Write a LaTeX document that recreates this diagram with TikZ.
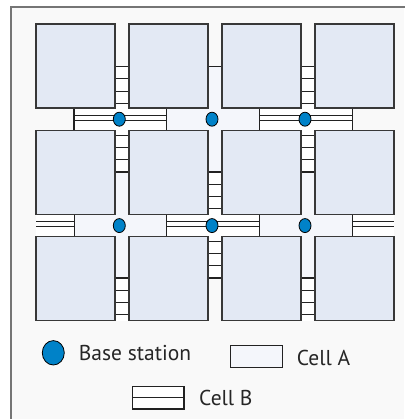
\documentclass[tikz,border=0pt]{standalone}
\usepackage{fontspec}
\setmainfont{PT Sans}
\definecolor{framebg}{HTML}{F9F9F9}
\definecolor{framecol}{HTML}{757575}
\definecolor{blockfill}{HTML}{E3E9F4}
\definecolor{cellafill}{HTML}{F4F6FB}
\definecolor{dotblue}{HTML}{0082C8}
\definecolor{inkline}{HTML}{222222}
\tikzset{
  block/.style={fill=blockfill, draw=inkline!90, line width=1.2pt},
  ln/.style={draw=inkline, line width=1.1pt},
  station/.style={ellipse, fill=dotblue, draw=black, line width=0.8pt, inner sep=0pt},
  legendtext/.style={anchor=base west, inner sep=0pt, font=\fontsize{21.5}{25}\selectfont, text=black!85},
}
\usetikzlibrary{shapes.geometric}
\begin{document}
\begin{tikzpicture}[x=1pt,y=-1pt]
\useasboundingbox (0,0) rectangle (404,419);
\fill[white] (0,0) rectangle (404,419);
\fill[framebg] (11,7) rectangle (404,419);
\draw[framecol, line width=1.4pt] (11,420) -- (11,7) -- (405,7);

% Cell A crosses: col gap xa..xb, row gap ya..yb, arm ends hx1..hx2, vy1..vy2
\foreach \xa/\xb/\ya/\yb/\hxa/\hxb/\vya/\vyb in {
  208/222/108/130.4/166.7/259.3/66.7/172,
  115/129/214.4/236.8/74/166.7/172/278,
  301/315/214.4/236.8/259.3/352.7/172/278}{
  \fill[cellafill] (\hxa,\ya) rectangle (\hxb,\yb);
  \fill[cellafill] (\xa,\vya) rectangle (\xb,\vyb);
  \draw[ln] (\hxa,\ya) -- (\hxa,\yb) (\hxb,\ya) -- (\hxb,\yb)
            (\xa,\vya) -- (\xb,\vya) (\xa,\vyb) -- (\xb,\vyb);
}

% Cell B crosses: white, with double band lines and ladder rungs
\foreach \xa/\xb/\ya/\yb/\hxa/\hxb/\vya/\vyb in {
  115/129/108/130.4/74/166.7/66.7/172,
  301/315/108/130.4/259.3/352.7/66.7/172,
  208/222/214.4/236.8/166.7/259.3/172/278}{
  \fill[white] (\hxa,\ya) rectangle (\hxb,\yb);
  \fill[white] (\xa,\vya) rectangle (\xb,\vyb);
  \draw[ln] (\hxa,\ya) -- (\hxa,\yb) (\hxb,\ya) -- (\hxb,\yb);
  \draw[ln] (\hxa,{(\ya+\yb)/2-4}) -- (\hxb,{(\ya+\yb)/2-4})
            (\hxa,{(\ya+\yb)/2+1}) -- (\hxb,{(\ya+\yb)/2+1});
  \foreach \k in {0,...,3}{
    \draw[ln] (\xa,{\vya+12.2*\k}) -- (\xb,{\vya+12.2*\k});
    \draw[ln] (\xa,{\vyb-12.2*\k}) -- (\xb,{\vyb-12.2*\k});
  }
}

% Cell B pieces at the edges of the grid
\foreach \hxa/\hxb in {36/74, 352.7/394}{
  \fill[white] (\hxa,214.4) rectangle (\hxb,236.8);
  \draw[ln] (\hxa,221.6) -- (\hxb,221.6) (\hxa,226.6) -- (\hxb,226.6);
}
\foreach \xa/\xb in {115/129, 301/315}{
  \fill[white] (\xa,278) rectangle (\xb,320.8);
  \foreach \k in {0,...,3}
    \draw[ln] (\xa,{278+12.2*\k}) -- (\xb,{278+12.2*\k});
}

% City blocks
\foreach \i in {0,...,3}
  \foreach \j in {0,...,2}
    \draw[block] ({36+93*\i},{24+106.4*\j}) rectangle +(79,84);

% Base stations
\foreach \x/\y [count=\n] in {119.3/119.2, 212/119.2, 305/119.2, 119.3/225.6, 212/225.6, 305/225.6}
  \node[station, minimum width=12pt, minimum height=14pt] (bs\n) at (\x,\y) {};

% Legend
\node[station, minimum width=22pt, minimum height=24.4pt] (legbs) at (53.3,352.8) {};
\node[legendtext] (legbstext) at (78.7,360.7) {Base station};
\draw[fill=cellafill, draw=inkline, line width=1.1pt] (230.7,345.7) rectangle (282.7,367.3);
\node[legendtext] (legAtext) at (296.7,365) {Cell A};
\draw[fill=white, draw=inkline, line width=1.1pt] (132.3,386.7) rectangle (184,409);
\draw[ln] (132.3,397.8) -- (184,397.8);
\node[legendtext] (legBtext) at (199,405) {Cell B};
\end{tikzpicture}
\end{document}
